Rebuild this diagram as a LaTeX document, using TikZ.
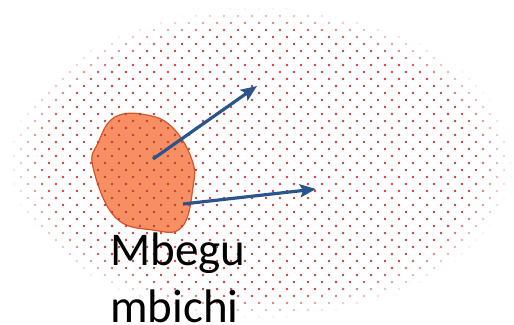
\documentclass[tikz,border=0pt]{standalone}
\usepackage{fontspec}
\setmainfont{Carlito}
\usetikzlibrary{arrows.meta}
\definecolor{seedfill}{RGB}{247,143,98}
\definecolor{seedline}{RGB}{214,84,40}
\definecolor{dotred}{RGB}{196,60,60}
\definecolor{arrowblue}{RGB}{42,84,140}

\begin{document}
\begin{tikzpicture}[x=1pt,y=-1pt,
  sprout/.style={draw=arrowblue, line width=3.2pt, -{Stealth[length=16pt,width=13pt,inset=3pt]}}]
\useasboundingbox (0,0) rectangle (514,324);

% seed
\filldraw[fill=seedfill, draw=seedline, line width=1.2pt] plot[smooth cycle, tension=0.7] coordinates {(115,117) (147,115) (173,128) (192,160) (193,187) (182,227) (153,230) (115,217) (93,167) (98,143)};

% dotted field
\foreach \j in {0,...,46} {
  \foreach \i in {0,...,37} {
    \pgfmathsetmacro\px{14*\i+7*mod(\j,2)}
    \pgfmathsetmacro\py{7*\j+2}
    \pgfmathsetmacro\rr{sqrt(((\px-261)/252)^2+((\py-163)/156)^2)}
    \pgfmathsetmacro\op{min(1,max(0,(1-\rr)/0.15))}
    \fill[dotred, opacity=\op] (\px,\py) circle (1.35);
  }
}

\coordinate (c1) at (153,159);
\coordinate (t1) at (257,86);
\coordinate (c2) at (183,204);
\coordinate (t2) at (316,189);

\draw[sprout] (c1) -- (t1);
\draw[sprout] (c2) -- (t2);

\node (label) [anchor=base west, inner sep=0, align=left, font=\fontsize{47}{57}\selectfont] at (110,322) {Mbegu\\mbichi};
\end{tikzpicture}
\end{document}
